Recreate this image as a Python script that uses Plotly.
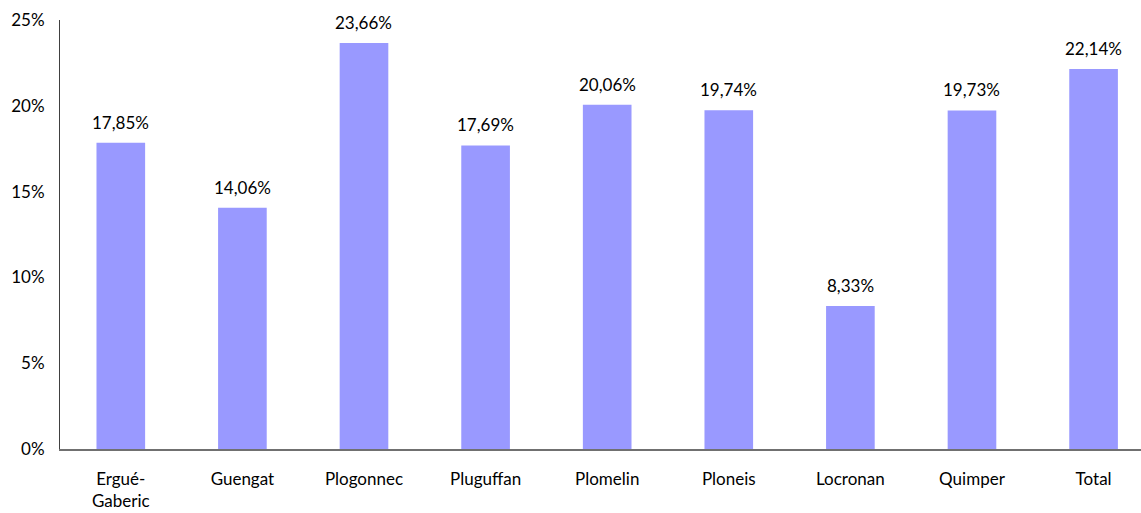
import plotly.graph_objects as go

categories = ["Ergué-<br>Gaberic", "Guengat", "Plogonnec", "Pluguffan", "Plomelin",
              "Ploneis", "Locronan", "Quimper", "Total"]
values = [17.85, 14.06, 23.66, 17.69, 20.06, 19.74, 8.33, 19.73, 22.14]
labels = [f"{v:.2f}%".replace(".", ",") for v in values]
y_ticks = [0, 5, 10, 15, 20, 25]
y_tick_text = [f"{t}%" for t in y_ticks]

FONT = "Lato"

fig = go.Figure(go.Bar(
    x=categories, y=values,
    marker=dict(color="#9999FF", line=dict(width=0)),
    width=0.40, cliponaxis=False,
))

for cat, val, lab in zip(categories, values, labels):
    fig.add_annotation(x=cat, y=val, text=lab, showarrow=False,
                       yanchor="bottom", yshift=8,
                       font=dict(family=FONT, size=17, color="#000000"))

fig.update_layout(
    width=1141, height=513,
    margin=dict(l=60, r=0, t=20, b=64),
    paper_bgcolor="white", plot_bgcolor="white",
    font=dict(family=FONT, size=17, color="#000000"),
    showlegend=False,
)
fig.update_yaxes(range=[0, 25], tickvals=y_ticks, ticktext=y_tick_text,
                 showgrid=False, zeroline=False, showline=True, linecolor="#404040",
                 linewidth=1, ticks="", ticklabelstandoff=11)
fig.update_xaxes(range=[-0.5, 8.39], showgrid=False, showline=True,
                 linecolor="#707070", linewidth=1.5, ticks="", ticklabelstandoff=14)

fig.write_html("out.html", config={"displayModeBar": False},
               post_script="document.body.style.margin='0';document.body.style.overflow='hidden';")
